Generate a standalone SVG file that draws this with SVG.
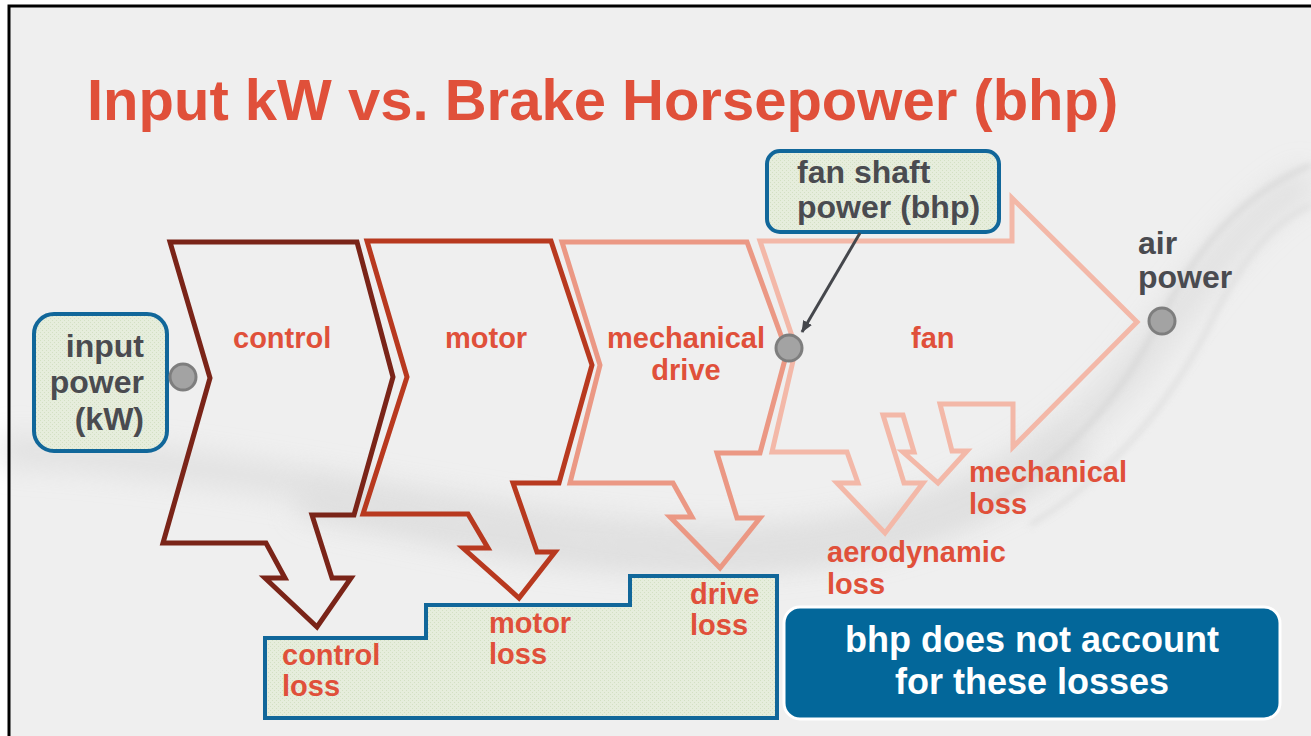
<svg xmlns="http://www.w3.org/2000/svg" width="1311" height="736" viewBox="0 0 1311 736">
  <defs>
    <filter id="soft" x="-20%" y="-50%" width="140%" height="200%">
      <feGaussianBlur stdDeviation="14"/>
    </filter>
    <filter id="softThin" x="-20%" y="-50%" width="140%" height="200%">
      <feGaussianBlur stdDeviation="3"/>
    </filter>
    <pattern id="mesh" width="4" height="4" patternUnits="userSpaceOnUse">
      <rect width="4" height="4" fill="#e6eddc"/>
      <rect width="1" height="1" fill="#d3e0c3"/>
      <rect x="2" y="2" width="1" height="1" fill="#d3e0c3"/>
    </pattern>
    <marker id="arrow" viewBox="0 0 12 10" refX="11" refY="5" markerWidth="12" markerHeight="10" markerUnits="userSpaceOnUse" orient="auto">
      <path d="M0,0 L12,5 L0,10 Z" fill="#45474c"/>
    </marker>
    <style>
      .title { font-family: "Liberation Sans", Arial, sans-serif; font-weight: bold; font-size: 58px; fill: #e0503a; }
      .lbl { font-family: "Liberation Sans", Arial, sans-serif; font-weight: bold; font-size: 29px; fill: #e0503a; }
      .gray { font-family: "Liberation Sans", Arial, sans-serif; font-weight: bold; font-size: 32px; fill: #4a4b50; }
      .note { font-family: "Liberation Sans", Arial, sans-serif; font-weight: bold; font-size: 36px; fill: #ffffff; }
      .stage { fill: none; stroke-width: 5; stroke-linejoin: miter; }
      .box { fill: url(#mesh); stroke: #11679a; stroke-width: 4; }
      .dot { fill: #a3a3a3; stroke: #7e7e7e; stroke-width: 3; }
    </style>
  </defs>

  <!-- page -->
  <rect width="1311" height="736" fill="#ffffff"/>
  <rect x="9" y="6" width="1310" height="740" fill="#efefef"/>

  <!-- background swoosh -->
  <g id="swoosh" opacity="0.75">
    <path d="M0,450 C250,460 500,530 700,540 C900,548 1050,470 1140,360 C1200,280 1250,210 1311,180" fill="none" stroke="#dcdcdc" stroke-width="30" filter="url(#soft)"/>
    <path d="M300,500 C450,530 560,560 720,558 C880,556 1000,510 1080,440" fill="none" stroke="#d8d8d8" stroke-width="30" filter="url(#soft)"/>
    <path d="M980,510 C1070,460 1125,390 1160,320 C1200,240 1250,190 1311,165" fill="none" stroke="#cdcdcd" stroke-width="4" filter="url(#softThin)"/>
    <path d="M1030,525 C1120,470 1175,395 1212,320 C1242,260 1272,222 1311,205" fill="none" stroke="#dadada" stroke-width="5" filter="url(#softThin)"/>
  </g>

  <!-- frame -->
  <path d="M9,740 V6 H1311" fill="none" stroke="#000000" stroke-width="3"/>

  <!-- title -->
  <text class="title" x="87" y="120">Input kW vs. Brake Horsepower (bhp)</text>

  <!-- loss collection box -->
  <g id="loss-box">
    <polygon class="box" points="265,718 265,638 426,638 426,605 630,605 630,576 777,576 777,718"/>
    <text class="lbl" x="282" y="665">control</text>
    <text class="lbl" x="282" y="696">loss</text>
    <text class="lbl" x="489" y="633">motor</text>
    <text class="lbl" x="489" y="664">loss</text>
    <text class="lbl" x="690" y="604">drive</text>
    <text class="lbl" x="690" y="635">loss</text>
  </g>

  <!-- stages -->
  <g id="stage-control">
    <polygon class="stage" stroke="#7a2418" points="170,242 357,242 393,377 354,515 312,515 332,578 351,578 317,627 265,578 285,578 266,543 163,543 210,378"/>
    <text class="lbl" x="233" y="348">control</text>
  </g>
  <g id="stage-motor">
    <polygon class="stage" stroke="#b8391f" points="367,241 551,241 592,365 559,483 513,483 537,552 555,552 519,598 463,548 488,548 468,514 363,514 407,377"/>
    <text class="lbl" x="445" y="348">motor</text>
  </g>
  <g id="stage-drive">
    <polygon class="stage" stroke="#eb9884" points="562,242 747,242 787,352 760,453 717,453 737,518 760,518 720,568 670,517 692,517 673,483 570,483 600,365"/>
    <text class="lbl" x="686" y="348" text-anchor="middle">mechanical</text>
    <text class="lbl" x="686" y="380" text-anchor="middle">drive</text>
  </g>
  <g id="stage-fan">
    <polygon class="stage" stroke="#f3b8a8" points="760,241 1012,241 1012,198 1137,322 1013,447 1013,404 940,404 952,451 967,451 938,483 903,452 914,452 903,415 883,415 904,483 923,483 885,533 837,483 858,483 847,452 772,452 796,348"/>
    <text class="lbl" x="911" y="348">fan</text>
    <text class="lbl" x="969" y="482">mechanical</text>
    <text class="lbl" x="969" y="514">loss</text>
    <text class="lbl" x="827" y="562">aerodynamic</text>
    <text class="lbl" x="827" y="594">loss</text>
  </g>

  <!-- input power -->
  <g id="input-power">
    <rect class="box" x="34" y="314" width="133" height="137" rx="20"/>
    <text class="gray" x="144" y="357" text-anchor="end">input</text>
    <text class="gray" x="144" y="393" text-anchor="end">power</text>
    <text class="gray" x="144" y="430" text-anchor="end">(kW)</text>
    <circle class="dot" cx="183" cy="377" r="13"/>
  </g>

  <!-- fan shaft power -->
  <g id="fan-shaft-power">
    <rect class="box" x="767" y="151" width="232" height="81" rx="13"/>
    <text class="gray" x="797" y="183">fan shaft</text>
    <text class="gray" x="797" y="218">power (bhp)</text>
    <circle class="dot" cx="789" cy="348" r="13"/>
  </g>

  <!-- air power -->
  <g id="air-power">
    <text class="gray" x="1138" y="254">air</text>
    <text class="gray" x="1138" y="288">power</text>
    <circle class="dot" cx="1162" cy="321" r="13"/>
  </g>

  <!-- note -->
  <g id="note">
    <rect x="784" y="607" width="496" height="112" rx="16" fill="#03679a" stroke="#ffffff" stroke-width="3"/>
    <text class="note" x="1032" y="652" text-anchor="middle">bhp does not account</text>
    <text class="note" x="1032" y="694" text-anchor="middle">for these losses</text>
  </g>

  <!-- connectors -->
  <g id="connectors">
    <line x1="860" y1="233" x2="802" y2="332" stroke="#45474c" stroke-width="3" marker-end="url(#arrow)"/>
  </g>
</svg>
